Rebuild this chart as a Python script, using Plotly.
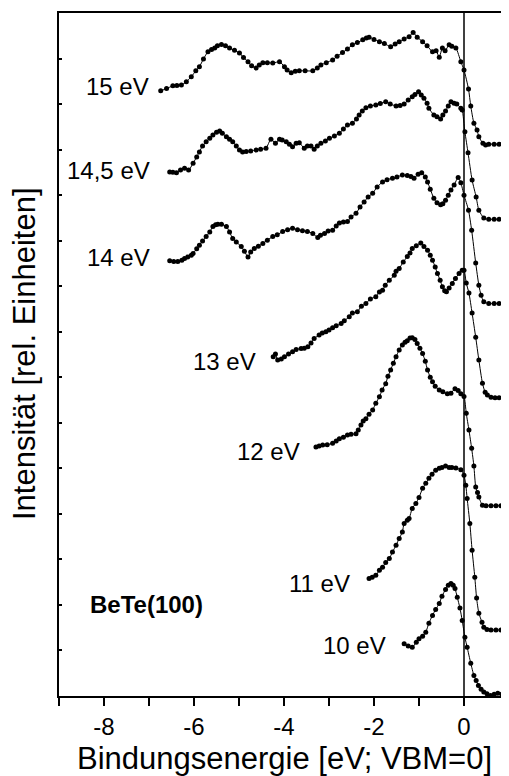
import plotly.graph_objects as go

# ---------------- data ----------------
labels = ["15 eV", "14,5 eV", "14 eV", "13 eV", "12 eV", "11 eV", "10 eV"]

x_15 = [-6.74,-6.61,-6.47,-6.38,-6.28,-6.17,-6.06,-5.96,-5.88,-5.79,-5.69,-5.61,-5.54,-5.48,-5.39,-5.30,-5.21,-5.10,-4.99,-4.90,-4.80,-4.72,-4.62,-4.55,-4.47,-4.37,-4.25,-4.10,-3.99,-3.93,-3.84,-3.75,-3.66,-3.53,-3.36,-3.26,-3.18,-3.06,-2.92,-2.82,-2.70,-2.59,-2.48,-2.37,-2.25,-2.17,-2.11,-2.00,-1.88,-1.77,-1.63,-1.53,-1.44,-1.33,-1.22,-1.13,-1.04,-0.92,-0.82,-0.70,-0.62,-0.55,-0.48,-0.42,-0.33,-0.27,-0.18,-0.07,0.00,0.10,0.15,0.22,0.29,0.33,0.42,0.48,0.55,0.67,0.78,0.89,0.98]
y_15 = [13.29,13.34,13.40,13.41,13.42,13.49,13.60,13.73,13.82,13.99,14.15,14.20,14.23,14.28,14.31,14.28,14.23,14.18,14.12,14.02,13.93,13.84,13.79,13.86,13.91,13.91,13.90,13.93,13.82,13.75,13.69,13.72,13.73,13.73,13.73,13.79,13.86,13.91,13.97,14.05,14.13,14.21,14.30,14.35,14.41,14.45,14.47,14.42,14.37,14.33,14.26,14.32,14.37,14.43,14.48,14.57,14.47,14.37,14.28,14.15,14.17,14.03,14.23,14.17,14.30,14.27,14.23,13.93,13.75,13.33,12.96,12.58,12.43,12.28,12.14,12.10,12.12,12.12,12.12,12.12,12.12]

x_145 = [-6.54,-6.47,-6.39,-6.30,-6.21,-6.12,-6.02,-5.94,-5.88,-5.81,-5.73,-5.65,-5.58,-5.50,-5.43,-5.37,-5.28,-5.21,-5.14,-5.06,-4.99,-4.92,-4.84,-4.74,-4.62,-4.52,-4.40,-4.29,-4.19,-4.10,-4.04,-3.95,-3.88,-3.81,-3.73,-3.66,-3.55,-3.48,-3.40,-3.33,-3.26,-3.18,-3.08,-2.99,-2.88,-2.77,-2.68,-2.59,-2.48,-2.39,-2.33,-2.26,-2.18,-2.08,-1.96,-1.86,-1.74,-1.64,-1.51,-1.42,-1.33,-1.24,-1.15,-1.09,-1.01,-0.95,-0.89,-0.82,-0.78,-0.67,-0.60,-0.52,-0.47,-0.41,-0.35,-0.29,-0.22,-0.16,-0.07,-0.04,0.02,0.09,0.18,0.27,0.33,0.44,0.55,0.67,0.78,0.89,0.98]
y_145 = [11.51,11.50,11.49,11.55,11.59,11.55,11.70,11.84,11.95,12.08,12.17,12.25,12.32,12.38,12.41,12.36,12.28,12.23,12.17,12.08,11.99,11.95,11.96,11.97,11.99,12.01,12.03,12.23,12.14,12.23,12.21,12.17,12.12,12.06,12.14,12.15,12.03,12.08,12.08,12.01,12.08,12.14,12.19,12.25,12.30,12.36,12.45,12.54,12.58,12.67,12.76,12.85,12.92,12.96,12.98,13.01,13.05,13.00,12.96,12.97,13.00,13.09,13.16,13.21,13.27,13.20,13.13,13.02,12.91,12.76,12.72,12.67,12.76,12.85,12.96,13.05,13.02,13.00,12.91,12.87,12.39,11.93,11.33,10.96,10.67,10.50,10.47,10.47,10.47,10.47,10.47]

x_14 = [-6.54,-6.45,-6.36,-6.27,-6.21,-6.14,-6.06,-6.02,-5.94,-5.88,-5.81,-5.73,-5.65,-5.58,-5.52,-5.47,-5.39,-5.28,-5.21,-5.14,-5.06,-4.95,-4.88,-4.80,-4.74,-4.66,-4.57,-4.47,-4.37,-4.25,-4.15,-4.03,-3.92,-3.81,-3.70,-3.59,-3.48,-3.36,-3.25,-3.19,-3.10,-3.02,-2.92,-2.84,-2.77,-2.68,-2.59,-2.51,-2.40,-2.31,-2.22,-2.13,-2.03,-1.93,-1.81,-1.71,-1.59,-1.49,-1.37,-1.26,-1.18,-1.11,-1.02,-0.94,-0.86,-0.81,-0.75,-0.67,-0.60,-0.52,-0.47,-0.41,-0.35,-0.29,-0.22,-0.13,-0.07,0.00,0.10,0.17,0.26,0.33,0.38,0.44,0.55,0.67,0.78,0.89,0.98]
y_14 = [9.56,9.54,9.54,9.57,9.61,9.64,9.68,9.72,9.82,9.90,9.99,10.09,10.19,10.31,10.35,10.36,10.36,10.31,10.19,10.05,9.97,9.87,9.77,9.64,9.75,9.83,9.88,9.94,10.01,10.09,10.13,10.20,10.24,10.27,10.24,10.22,10.20,10.16,10.07,10.12,10.16,10.21,10.23,10.32,10.39,10.41,10.42,10.52,10.60,10.74,10.85,10.96,11.04,11.18,11.29,11.34,11.37,11.40,11.44,11.43,11.41,11.37,11.46,11.49,11.40,11.29,11.13,10.93,10.83,10.79,10.81,10.89,11.00,11.11,11.22,11.39,11.27,11.00,10.67,10.23,9.51,9.02,8.80,8.66,8.62,8.62,8.62,8.62,8.62]

x_13 = [-4.24,-4.19,-4.14,-4.06,-3.99,-3.90,-3.81,-3.73,-3.62,-3.55,-3.47,-3.40,-3.33,-3.22,-3.15,-3.07,-3.00,-2.92,-2.84,-2.73,-2.66,-2.55,-2.48,-2.37,-2.28,-2.18,-2.08,-1.96,-1.88,-1.81,-1.75,-1.66,-1.55,-1.51,-1.44,-1.35,-1.26,-1.20,-1.15,-1.06,-0.96,-0.89,-0.81,-0.75,-0.70,-0.64,-0.59,-0.53,-0.48,-0.43,-0.39,-0.33,-0.26,-0.19,-0.11,-0.04,0.00,0.05,0.11,0.18,0.26,0.33,0.41,0.47,0.52,0.60,0.69,0.78,0.89,0.98]
y_13 = [7.45,7.51,7.38,7.40,7.45,7.51,7.56,7.61,7.63,7.64,7.67,7.75,7.85,7.93,7.97,8.00,8.04,8.09,8.13,8.18,8.24,8.33,8.41,8.44,8.56,8.62,8.72,8.77,8.87,8.91,9.02,9.13,9.24,9.33,9.39,9.53,9.65,9.73,9.83,9.89,9.95,9.87,9.79,9.68,9.57,9.42,9.28,9.13,8.99,8.90,8.88,8.96,9.06,9.17,9.28,9.35,9.35,9.07,8.85,8.41,7.88,7.38,6.87,6.67,6.61,6.56,6.55,6.55,6.55,6.55]

x_12 = [-3.29,-3.22,-3.14,-3.04,-2.92,-2.84,-2.77,-2.68,-2.59,-2.51,-2.40,-2.35,-2.29,-2.24,-2.18,-2.11,-2.03,-1.96,-1.88,-1.82,-1.74,-1.69,-1.63,-1.57,-1.51,-1.44,-1.37,-1.31,-1.26,-1.20,-1.15,-1.09,-1.04,-0.98,-0.92,-0.86,-0.81,-0.75,-0.70,-0.64,-0.55,-0.47,-0.37,-0.29,-0.20,-0.13,-0.07,0.00,0.05,0.11,0.17,0.22,0.26,0.30,0.33,0.41,0.49,0.60,0.71,0.82,0.93]
y_12 = [5.47,5.49,5.51,5.52,5.55,5.60,5.65,5.68,5.73,5.75,5.76,5.84,5.95,6.04,6.09,6.19,6.28,6.43,6.57,6.72,6.86,7.02,7.16,7.31,7.45,7.60,7.71,7.77,7.80,7.86,7.87,7.83,7.74,7.64,7.52,7.35,7.16,7.00,6.90,6.80,6.72,6.68,6.64,6.65,6.75,6.71,6.64,6.58,6.21,5.84,5.44,5.05,4.59,4.47,4.37,4.19,4.18,4.18,4.18,4.18,4.18]

x_11 = [-2.11,-2.04,-1.96,-1.88,-1.81,-1.74,-1.66,-1.59,-1.51,-1.44,-1.37,-1.33,-1.26,-1.22,-1.15,-1.07,-1.00,-0.92,-0.85,-0.78,-0.71,-0.63,-0.55,-0.49,-0.41,-0.33,-0.27,-0.18,-0.07,0.00,0.04,0.07,0.13,0.18,0.24,0.28,0.33,0.40,0.44,0.51,0.60,0.71,0.82,0.93]
y_11 = [2.58,2.61,2.65,2.76,2.83,2.93,3.02,3.16,3.31,3.46,3.60,3.79,3.86,3.90,4.12,4.23,4.36,4.56,4.67,4.78,4.87,4.96,5.00,5.02,5.05,5.02,5.02,5.01,4.97,4.85,4.63,4.34,3.79,3.20,2.61,2.15,1.82,1.62,1.51,1.46,1.45,1.45,1.45,1.45]

x_10 = [-1.33,-1.24,-1.15,-1.06,-1.00,-0.92,-0.85,-0.78,-0.70,-0.63,-0.55,-0.49,-0.41,-0.35,-0.29,-0.24,-0.20,-0.15,-0.09,-0.04,0.02,0.07,0.15,0.22,0.27,0.32,0.38,0.44,0.51,0.59,0.67,0.75,0.84,0.93]
y_10 = [1.15,1.10,1.07,1.18,1.26,1.31,1.40,1.60,1.77,1.90,2.03,2.19,2.34,2.43,2.47,2.43,2.36,2.17,1.93,1.66,1.29,1.07,0.72,0.45,0.34,0.23,0.15,0.09,0.05,0.01,0.04,0.06,0.04,0.06]

# label anchor positions (data units)
label_x = [-6.96, -6.94, -6.94, -4.57, -3.61, -2.50, -1.68]
label_y = [13.38, 11.55, 9.62, 7.34, 5.37, 2.48, 1.12]

x_tickvals = [-9, -8, -7, -6, -5, -4, -3, -2, -1, 0, 1]
x_ticktext = ["", "-8", "", "-6", "", "-4", "", "-2", "", "0", ""]
y_tickvals = list(range(0, 16))

series_x = [x_15, x_145, x_14, x_13, x_12, x_11, x_10]
series_y = [y_15, y_145, y_14, y_13, y_12, y_11, y_10]

FONT = "Liberation Sans, Arial, sans-serif"

fig = go.Figure()
for name, xs, ys in zip(labels, series_x, series_y):
    fig.add_trace(go.Scatter(
        x=xs, y=ys, name=name, mode="lines+markers",
        line=dict(color="black", width=1, shape="spline", smoothing=0.6),
        marker=dict(color="black", size=5),
        showlegend=False, hoverinfo="skip", cliponaxis=False))

for t, lx, ly in zip(labels, label_x, label_y):
    fig.add_annotation(x=lx, y=ly, text=t, showarrow=False,
                       xanchor="right", yanchor="middle",
                       font=dict(family=FONT, size=24, color="black"))

fig.add_annotation(x=-8.35, y=2.02, text="<b>BeTe(100)</b>", showarrow=False,
                   xanchor="left", yanchor="middle",
                   font=dict(family=FONT, size=24, color="black"))

# axis titles
fig.add_annotation(xref="paper", yref="paper", x=0.5, y=-0.0908,
                   text="Bindungsenergie [eV; VBM=0]", showarrow=False,
                   xanchor="center", yanchor="middle",
                   font=dict(family=FONT, size=31, color="black"))
fig.add_annotation(xref="paper", yref="paper", x=-0.078, y=0.502,
                   text="Intensität [rel. Einheiten]", showarrow=False,
                   textangle=-90, xanchor="center", yanchor="middle",
                   font=dict(family=FONT, size=31, color="black"))

fig.add_shape(type="line", xref="x", yref="paper", x0=0, x1=0, y0=0, y1=1,
              line=dict(color="black", width=1.5))

# the page body has an 8px margin, so the figure is sized to fit the window
fig.update_layout(
    width=501, height=768,
    margin=dict(l=51, r=0, t=5, b=80),
    paper_bgcolor="white", plot_bgcolor="white",
    font=dict(family=FONT, color="black"),
    xaxis=dict(range=[-9, 1], tickvals=x_tickvals, ticktext=x_ticktext,
               ticks="outside", ticklen=8, tickwidth=1.5, tickcolor="black",
               showline=True, linewidth=2, linecolor="black", mirror=True,
               showgrid=False, zeroline=False, automargin=False,
               tickfont=dict(family=FONT, size=24, color="black")),
    yaxis=dict(range=[0, 15], tickvals=y_tickvals, showticklabels=False,
               ticks="inside", ticklen=3, tickwidth=1.5, tickcolor="black",
               showline=True, linewidth=2, linecolor="black", mirror=False,
               showgrid=False, zeroline=False, automargin=False),
)

fig.write_html("out.html")
